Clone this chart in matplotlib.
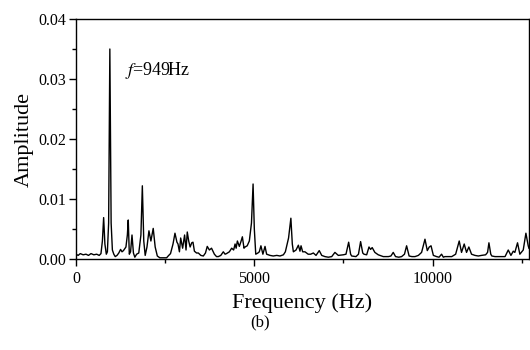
# spectrum plot, panel (b)
import matplotlib
matplotlib.use("Agg")
import matplotlib.pyplot as plt
from matplotlib.ticker import MultipleLocator

plt.rcParams['font.family'] = ['Liberation Serif', 'DejaVu Serif']
plt.rcParams['mathtext.fontset'] = 'stix'

# frequency (Hz) and amplitude
freq = [0, 60, 120, 200, 280, 350, 420, 500, 580, 650, 700, 740, 775, 810, 850, 880,
        915, 949, 985, 1020, 1060, 1100, 1150, 1200, 1250, 1290, 1330, 1400, 1440,
        1465, 1495, 1530, 1570, 1610, 1650, 1700, 1760, 1820, 1860, 1900, 1940, 1990,
        2045, 2100, 2165, 2220, 2280, 2350, 2430, 2540, 2600, 2650, 2720, 2775, 2830,
        2860, 2900, 2935, 2990, 3045, 3085, 3120, 3160, 3200, 3245, 3280, 3320, 3380,
        3430, 3500, 3570, 3630, 3680, 3740, 3800, 3880, 3940, 3990, 4060, 4130, 4180,
        4220, 4300, 4365, 4420, 4460, 4490, 4525, 4580, 4630, 4665, 4710, 4740, 4800,
        4860, 4920, 4965, 5000, 5040, 5100, 5140, 5185, 5240, 5300, 5345, 5440, 5530,
        5630, 5720, 5815, 5870, 5910, 5960, 6025, 6065, 6095, 6170, 6235, 6280, 6310,
        6355, 6420, 6510, 6580, 6655, 6730, 6820, 6890, 6980, 7075, 7170, 7260, 7355,
        7495, 7570, 7645, 7700, 7730, 7850, 7920, 7980, 8040, 8075, 8150, 8215, 8260,
        8305, 8380, 8475, 8615, 8760, 8830, 8895, 8960, 9050, 9130, 9210, 9270, 9340,
        9420, 9505, 9600, 9690, 9785, 9850, 9905, 9955, 10020, 10110, 10180, 10250,
        10300, 10345, 10440, 10535, 10645, 10745, 10810, 10885, 10950, 11015, 11090,
        11185, 11280, 11370, 11485, 11540, 11578, 11630, 11660, 11750, 11840, 11930,
        12030, 12120, 12195, 12260, 12305, 12380, 12445, 12540, 12615, 12680, 12700]
amp = [0.0008, 0.0006, 0.0009, 0.0007, 0.0008, 0.0006, 0.0009, 0.0007, 0.0008, 0.0006,
       0.0009, 0.0030, 0.0069, 0.0025, 0.0008, 0.0012, 0.0060, 0.0350, 0.0060, 0.0015,
       0.0008, 0.0004, 0.0006, 0.0010, 0.0016, 0.0012, 0.0014, 0.0020, 0.0040, 0.0065,
       0.0008, 0.0012, 0.0040, 0.0010, 0.0003, 0.0008, 0.0010, 0.0040, 0.0122, 0.0030,
       0.0006, 0.0020, 0.0047, 0.0030, 0.0051, 0.0020, 0.0005, 0.0002, 0.0002, 0.0002,
       0.0006, 0.0009, 0.0025, 0.0043, 0.0028, 0.0025, 0.0012, 0.0035, 0.0018, 0.0040,
       0.0015, 0.0045, 0.0030, 0.0020, 0.0027, 0.0028, 0.0013, 0.0010, 0.0010, 0.0006,
       0.0005, 0.0010, 0.0021, 0.0015, 0.0018, 0.0008, 0.0004, 0.0004, 0.0006, 0.0012,
       0.0008, 0.0009, 0.0012, 0.0018, 0.0015, 0.0025, 0.0018, 0.0030, 0.0021, 0.0030,
       0.0037, 0.0018, 0.0020, 0.0022, 0.0030, 0.0060, 0.0125, 0.0050, 0.0008, 0.0010,
       0.0012, 0.0022, 0.0008, 0.0021, 0.0008, 0.0006, 0.0005, 0.0006, 0.0005, 0.0007,
       0.0012, 0.0022, 0.0035, 0.0068, 0.0025, 0.0012, 0.0015, 0.0023, 0.0013, 0.0022,
       0.0012, 0.0012, 0.0008, 0.0008, 0.0010, 0.0006, 0.0014, 0.0006, 0.0004, 0.0003,
       0.0004, 0.0011, 0.0006, 0.0007, 0.0008, 0.0028, 0.0008, 0.0005, 0.0004, 0.0008,
       0.0029, 0.0010, 0.0008, 0.0007, 0.0020, 0.0016, 0.0019, 0.0011, 0.0007, 0.0004,
       0.0004, 0.0005, 0.0011, 0.0004, 0.0003, 0.0004, 0.0008, 0.0022, 0.0005, 0.0004,
       0.0004, 0.0006, 0.0011, 0.0033, 0.0014, 0.0020, 0.0022, 0.0006, 0.0004, 0.0003,
       0.0008, 0.0003, 0.0004, 0.0004, 0.0004, 0.0008, 0.0030, 0.0011, 0.0025, 0.0011,
       0.0020, 0.0008, 0.0006, 0.0005, 0.0006, 0.0007, 0.0011, 0.0027, 0.0008, 0.0005,
       0.0004, 0.0004, 0.0004, 0.0004, 0.0015, 0.0006, 0.0013, 0.0011, 0.0027, 0.0008,
       0.0015, 0.0043, 0.0022, 0.0018]

fig = plt.figure(figsize=(5.3, 3.5), dpi=100)
ax = fig.add_axes([0.1434, 0.26, 0.8546, 0.6857])
ax.plot(freq, amp, color='black', linewidth=1.0)

ax.set_xlim(0, 12700)
ax.set_ylim(0, 0.04)
ax.set_xticks([0, 5000, 10000])
ax.xaxis.set_minor_locator(MultipleLocator(2500))
ax.set_yticks([0.0, 0.01, 0.02, 0.03, 0.04])
ax.set_yticklabels(['0.00', '0.01', '0.02', '0.03', '0.04'])
ax.yaxis.set_minor_locator(MultipleLocator(0.005))
ax.tick_params(which='both', direction='out', top=False, right=False, labelsize=11.5)
ax.tick_params(which='major', length=5, width=1)
ax.tick_params(axis='y', which='major', pad=2)
ax.tick_params(axis='x', which='major', pad=3.5)
ax.tick_params(which='minor', length=3, width=1)
for s in ax.spines.values():
    s.set_linewidth(1.0)

ax.set_xlabel('Frequency (Hz)', fontsize=16, labelpad=5)
ax.set_ylabel('Amplitude', fontsize=16, labelpad=3)
ax.text(1380, 0.0315, r'$f$=949Hz', fontsize=13, va='center')
fig.text(0.49, 0.08, '(b)', fontsize=12, ha='center', va='center')

fig.savefig('out.png', dpi=100)
